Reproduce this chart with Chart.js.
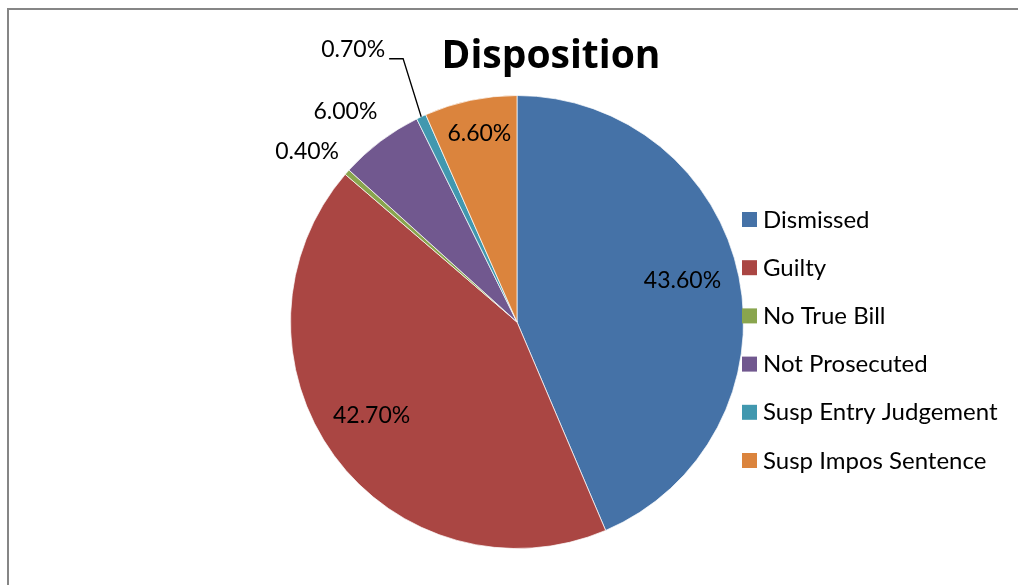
<!DOCTYPE html>
<html>
<head>
<meta charset="utf-8">
<title>Disposition</title>
<script src="https://cdn.jsdelivr.net/npm/chart.js@4.4.0/dist/chart.umd.min.js"></script>
<style>
  html, body { margin: 0; padding: 0; background: #fff; }
  .wrap { position: relative; width: 1018px; height: 585px; overflow: hidden; }
  .frame {
    position: absolute; left: 7px; top: 8px; right: -10px; bottom: -10px;
    border-left: 2px solid #868686; border-top: 2px solid #868686;
  }
  canvas { position: absolute; left: 0; top: 0; }
</style>
</head>
<body>
<div class="wrap">
  <div class="frame"></div>
  <canvas id="chart" width="1018" height="585"></canvas>
</div>
<script>
  /* ---------- Data ---------- */

  const categories = [
    'Dismissed',
    'Guilty',
    'No True Bill',
    'Not Prosecuted',
    'Susp Entry Judgement',
    'Susp Impos Sentence',
  ];
  const shares = [43.6, 42.7, 0.4, 6.0, 0.7, 6.6];
  const sliceColors = ['#4572A7', '#AA4643', '#89A54E', '#71588F', '#4198AF', '#DB843D'];

  const FONT = "Lato, 'Open Sans', sans-serif";
  const TITLE_FONT = "'Open Sans', Lato, sans-serif";

  /* ---------- Label placement (per slice) ---------- */
  // inside: fraction of radius + small angle nudge (deg)
  // outside: offset in px from the arc's outer midpoint, optional leader line
  const labelPlacement = [
    { inside: true, f: 0.754, da: -2.8 },
    { inside: true, f: 0.761, da: 3.7 },
    { inside: false, dx: -40, dy: -21 },
    { inside: false, dx: -35, dy: -30 },
    { inside: false, dx: -68, dy: -68, leader: true },
    { inside: true, f: 0.85, da: 0.6 },
  ];

  const sliceLabels = {
    id: 'sliceLabels',
    afterDatasetsDraw(chart) {
      const ctx = chart.ctx;
      const meta = chart.getDatasetMeta(0);
      ctx.save();
      ctx.font = '23px ' + FONT;
      ctx.fillStyle = '#000';
      ctx.textAlign = 'center';
      ctx.textBaseline = 'alphabetic';
      meta.data.forEach((arc, i) => {
        const p = arc.getProps(['x', 'y', 'startAngle', 'endAngle', 'outerRadius'], true);
        const mid = (p.startAngle + p.endAngle) / 2;
        const text = shares[i].toFixed(2) + '%';
        const opt = labelPlacement[i];
        let cx, cy;
        if (opt.inside) {
          const a = mid + (opt.da * Math.PI) / 180;
          cx = p.x + Math.cos(a) * p.outerRadius * opt.f;
          cy = p.y + Math.sin(a) * p.outerRadius * opt.f;
        } else {
          const ex = p.x + Math.cos(mid) * p.outerRadius;
          const ey = p.y + Math.sin(mid) * p.outerRadius;
          cx = ex + opt.dx;
          cy = ey + opt.dy;
          if (opt.leader) {
            const w = ctx.measureText(text).width;
            const lx = cx + w / 2 + 4;
            ctx.beginPath();
            ctx.moveTo(ex, ey);
            ctx.lineTo(lx + 14, cy + 10);
            ctx.lineTo(lx, cy + 10);
            ctx.strokeStyle = '#000';
            ctx.lineWidth = 1.3;
            ctx.stroke();
          }
        }
        ctx.fillText(text, cx, cy + 8);
      });
      ctx.restore();
    },
  };

  const titleAndLegend = {
    id: 'titleAndLegend',
    afterDraw(chart) {
      const ctx = chart.ctx;
      ctx.save();
      // title
      ctx.fillStyle = '#000';
      ctx.font = 'bold 39px ' + TITLE_FONT;
      ctx.textAlign = 'center';
      ctx.textBaseline = 'alphabetic';
      ctx.fillText('Disposition', 551, 68);

      // legend
      const colors = chart.data.datasets[0].backgroundColor;
      ctx.font = '24px ' + FONT;
      ctx.textAlign = 'left';
      chart.data.labels.forEach((label, i) => {
        const cy = 219.5 + i * 48.2;
        ctx.fillStyle = colors[i];
        ctx.fillRect(742, cy - 7.5, 15, 15);
        ctx.fillStyle = '#000';
        ctx.fillText(label, 763, cy + 8);
      });
      ctx.restore();
    },
  };

  /* ---------- Chart ---------- */

  new Chart(document.getElementById('chart'), {
    type: 'pie',
    data: {
      labels: categories,
      datasets: [
        {
          data: shares,
          backgroundColor: sliceColors,
          borderColor: 'rgba(255,255,255,0.7)',
          borderWidth: 1,
        },
      ],
    },
    options: {
      responsive: false,
      animation: false,
      layout: { padding: { left: 290, right: 274, top: 95, bottom: 36 } },
      plugins: {
        legend: { display: false },
        title: { display: false },
        tooltip: { enabled: false },
      },
    },
    plugins: [sliceLabels, titleAndLegend],
  });
</script>
</body>
</html>
